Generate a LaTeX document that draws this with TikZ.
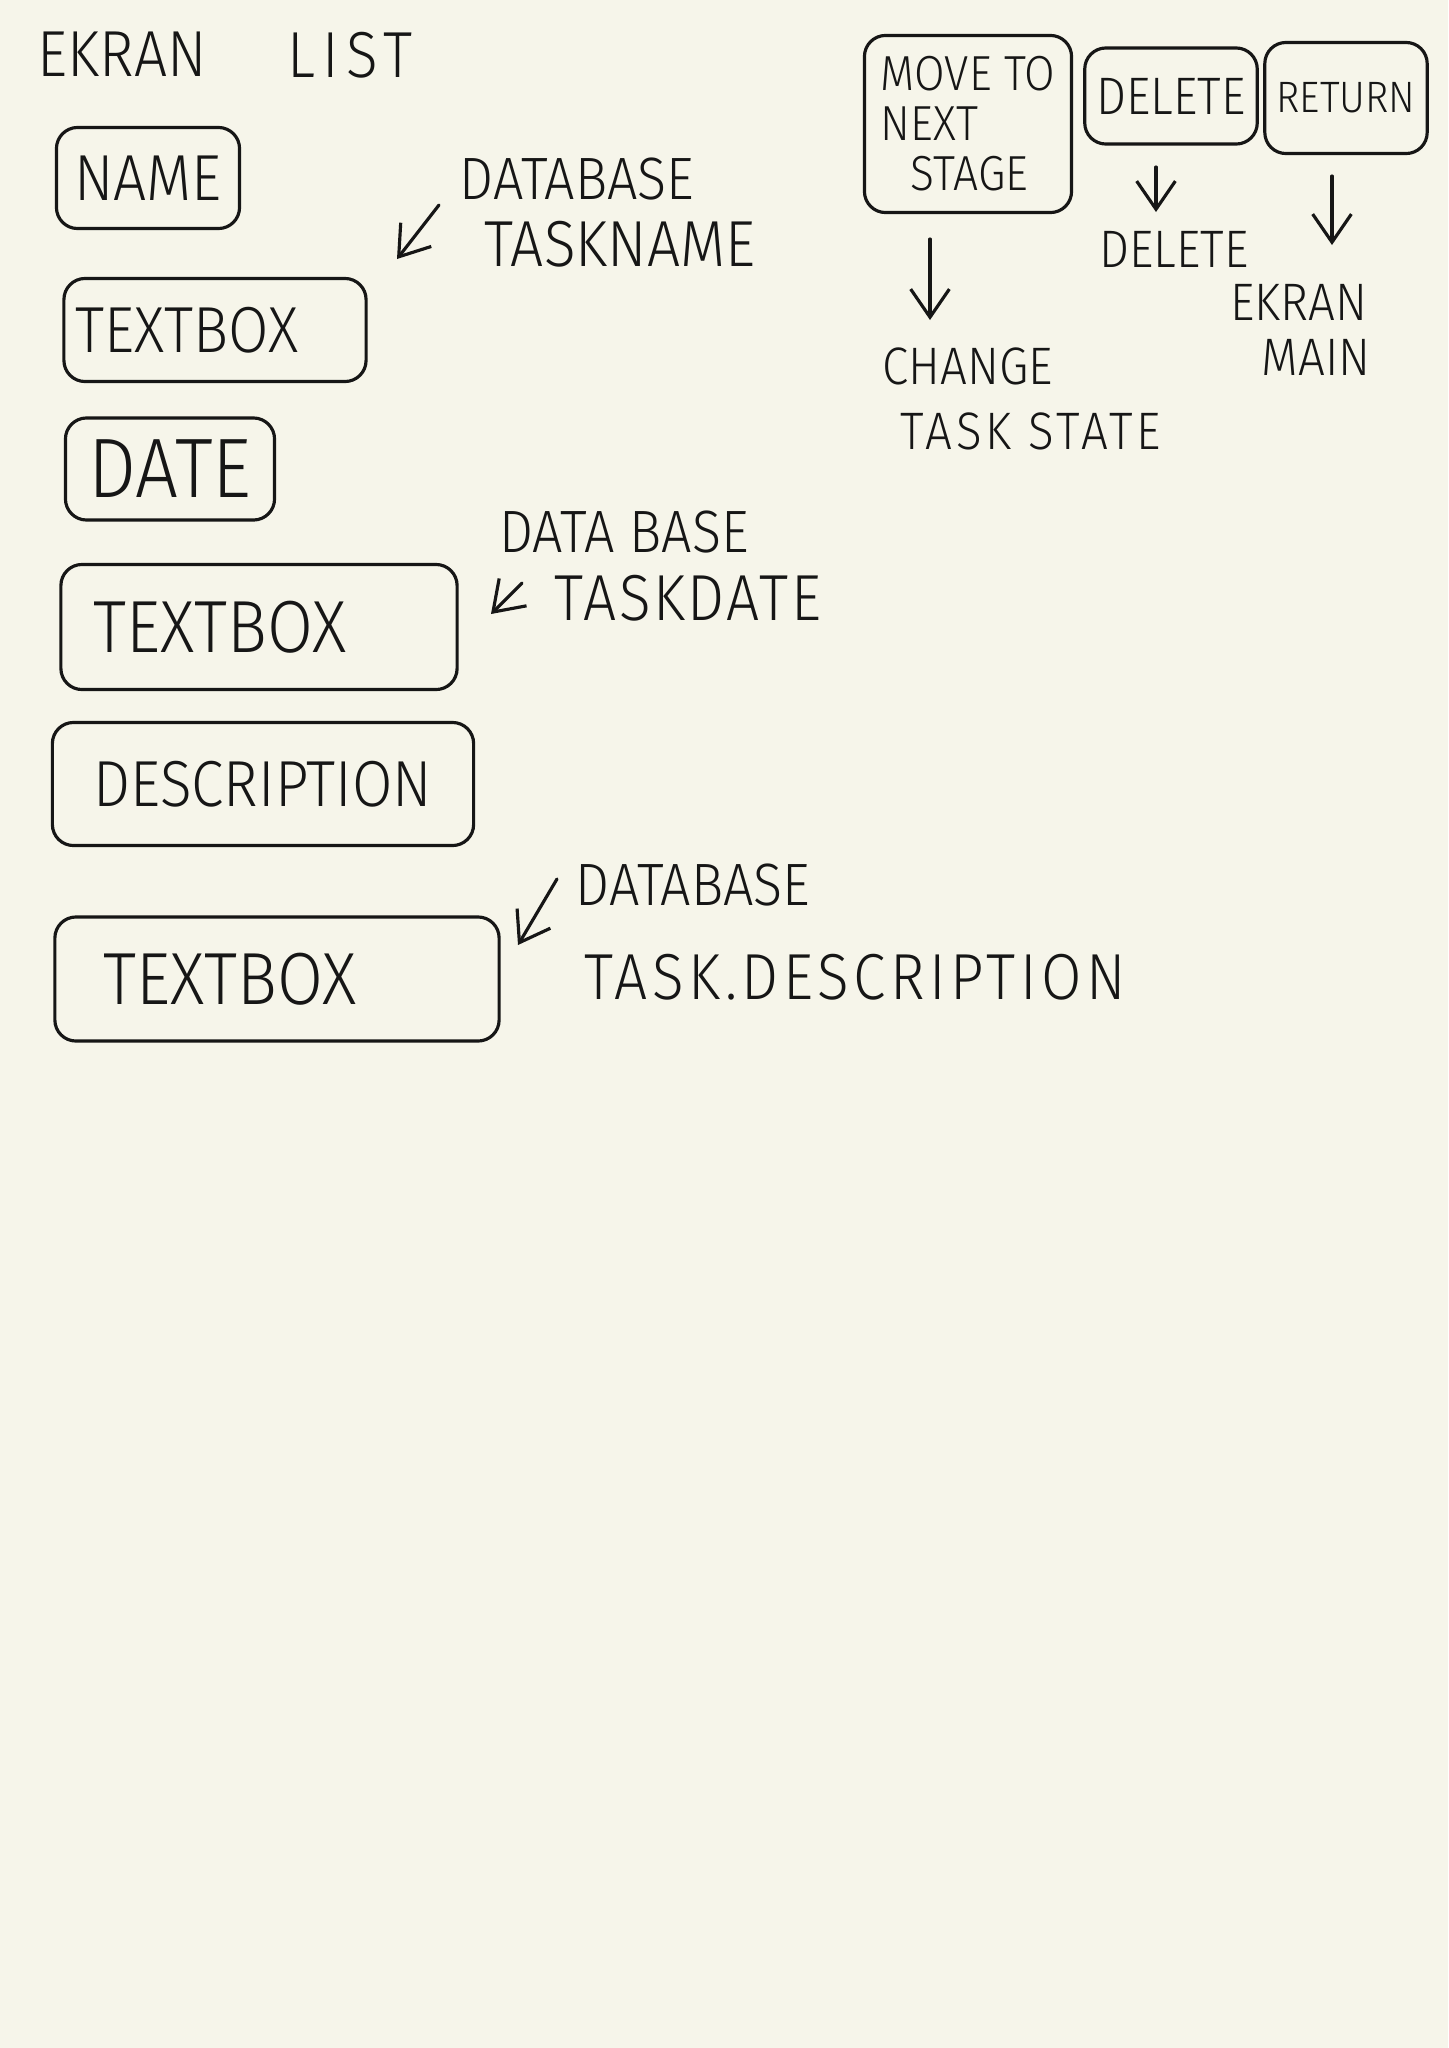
\documentclass[tikz,border=0pt]{standalone}
\usepackage{fontspec}
\setmainfont{Fira Sans Light}[FakeStretch=0.9]
\usetikzlibrary{arrows.meta}
\definecolor{paper}{RGB}{246,245,234}
\definecolor{ink}{RGB}{22,22,22}
\tikzset{
	hand/.style={font=\fontsize{18.5}{20}\selectfont,text=ink},
	note/.style={font=\fontsize{17}{19}\selectfont,text=ink},
	handS/.style={font=\fontsize{15}{14.2}\selectfont,text=ink},
	handM/.style={font=\fontsize{21}{23}\selectfont,text=ink},
	handL/.style={font=\fontsize{24}{26}\selectfont,text=ink},
	spread/.style={font=\fontsize{#1}{#1}\selectfont\addfontfeature{LetterSpace=7}},
	uibox/.style={draw=ink,line width=0.9pt,rounded corners=6pt},
	harrow/.style={draw=ink,line width=0.9pt,line cap=round,
		-{Straight Barb[length=8pt,width=11pt]}}
}
\begin{document}
\begin{tikzpicture}[x=0.01cm,y=-0.01cm]
		\fill[paper](0,0)rectangle(1448,2048);

		\node[hand](ekran)at(122,54){EKRAN};
		\node[hand,font=\fontsize{18.5}{20}\selectfont\addfontfeature{LetterSpace=11}](list)at(350,55){LIST};

		\node[uibox,hand,minimum width=1.83cm,minimum height=1.01cm](namebox)at(148,178){NAME};
		\node[uibox,hand,text width=2.78cm,inner xsep=0.12cm,minimum height=1.03cm,align=left](tbname)at(215,330){TEXTBOX};
		\node[uibox,handL,minimum width=2.09cm,minimum height=1.02cm](datebox)at(170,469){DATE};
		\node[uibox,handM,text width=3.30cm,inner xsep=0.33cm,minimum height=1.25cm,align=left](tbdate)at(259,627){TEXTBOX};
		\node[uibox,hand,minimum width=4.21cm,minimum height=1.23cm](descbox)at(263,784){DESCRIPTION};
		\node[uibox,handM,text width=3.46cm,inner xsep=0.49cm,minimum height=1.24cm,align=left](tbdesc)at(277,979){TEXTBOX};

		\node[note](dbname)at(577,179){DATABASE};
		\node[hand](taskname)at(620,244){TASKNAME};
		\node[note](dbdate)at(624,532){DATA BASE};
		\node[hand,font=\fontsize{18.5}{20}\selectfont\addfontfeature{LetterSpace=4}](taskdate)at(688,598){TASKDATE};
		\node[note](dbdesc)at(693,885){DATABASE};
		\node[hand,spread=18.5](taskdesc)at(855,977){TASK.DESCRIPTION};

		\node[uibox,handS,font=\fontsize{14}{14.2}\selectfont,minimum width=2.07cm,minimum height=1.77cm,align=left](movebox)at(968,124){MOVE TO\\NEXT\\\hspace{0.3cm}STAGE};
		\node[uibox,handS,minimum width=1.72cm,minimum height=0.96cm](delbox)at(1171,96){DELETE};
		\node[uibox,handS,font=\fontsize{12.5}{14}\selectfont,minimum width=1.54cm,minimum height=1.11cm](retbox)at(1346,98){RETURN};

		\node[handS](change)at(968,366){CHANGE};
		\node[handS,spread=15](taskstate)at(1031,431){TASK STATE};
		\node[handS](delete)at(1174,249){DELETE};
		\node[handS](ekranmain)at(1299,302){EKRAN};
		\node[handS](main)at(1316,357){MAIN};

		\coordinate(namefrom)at(439,205);
		\coordinate(nameto)at(397,259);
		\coordinate(datefrom)at(522,583);
		\coordinate(dateto)at(491,614);
		\coordinate(descfrom)at(557,879);
		\coordinate(descto)at(518,945);
		\coordinate(movefrom)at(930,239);
		\coordinate(moveto)at(930,320);
		\coordinate(delfrom)at(1156,167);
		\coordinate(delto)at(1156,212);
		\coordinate(retfrom)at(1332,176);
		\coordinate(retto)at(1332,245);
		\foreach \a/\b in {namefrom/nameto,datefrom/dateto,descfrom/descto,movefrom/moveto,delfrom/delto,retfrom/retto}{
			\draw[harrow](\a)--(\b);
		}

	\end{tikzpicture}
\end{document}
